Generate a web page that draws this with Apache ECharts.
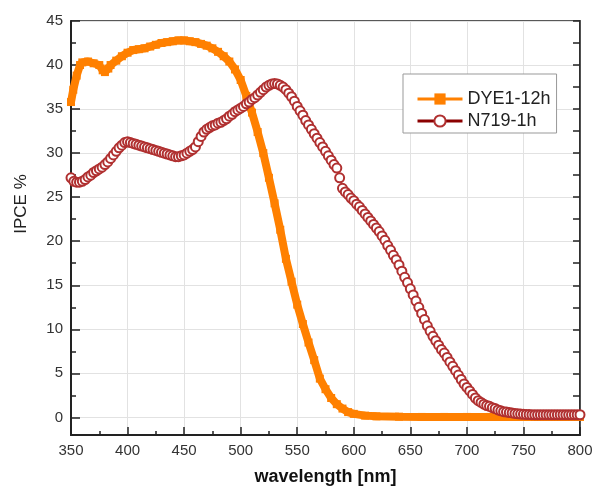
<!DOCTYPE html>
<html>
<head>
<meta charset="utf-8">
<script src="https://cdn.jsdelivr.net/npm/echarts@6/dist/echarts.min.js"></script>
<style>html,body{margin:0;padding:0;background:#fff}#c{width:593px;height:488px}</style>
</head>
<body>
<div id="c"></div>
<script>
// ---- data ----
const seriesNames = ['DYE1-12h', 'N719-1h'];

const dyeWavelength = [350,352,355,358,360,365,370,375,378,380,383,385,390,395,400,405,410,415,420,425,430,435,440,445,450,455,460,465,470,475,480,485,490,495,500,505,510,515,520,525,530,535,540,545,550,555,560,565,570,575,580,585,590,595,600,610,620,640,660,680,700,720,740,760,780,800];
const dyeIPCE = [35.8,37.2,38.8,40.0,40.3,40.4,40.2,40.0,39.4,39.2,39.6,40.0,40.5,41.0,41.4,41.7,41.8,41.9,42.1,42.3,42.5,42.6,42.7,42.8,42.8,42.7,42.6,42.4,42.2,41.9,41.5,41.0,40.4,39.5,38.3,36.5,34.6,32.4,30.0,27.2,24.3,21.3,18.0,15.4,12.8,10.6,8.5,6.5,4.4,3.2,2.2,1.5,1.0,0.6,0.4,0.2,0.12,0.08,0.05,0.05,0.05,0.05,0.05,0.05,0.05,0.05];

const n719Wavelength = [
  350,352.5,355,357.5,360,362.5,365,367.5,370,372.5,375,377.5,380,382.5,385,387.5,390,392.5,395,397.5,
  400,402.5,405,407.5,410,412.5,415,417.5,420,422.5,425,427.5,430,432.5,435,437.5,440,442.5,445,447.5,
  450,452.5,455,457.5,460,462.5,465,467.5,470,472.5,475,477.5,480,482.5,485,487.5,490,492.5,495,497.5,
  500,502.5,505,507.5,510,512.5,515,517.5,520,522.5,525,527.5,530,532.5,535,537.5,540,542.5,545,547.5,
  550,552.5,555,557.5,560,562.5,565,567.5,570,572.5,575,577.5,580,582.5,585,587.5,590,592.5,595,597.5,
  600,602.5,605,607.5,610,612.5,615,617.5,620,622.5,625,627.5,630,632.5,635,637.5,640,642.5,645,647.5,
  650,652.5,655,657.5,660,662.5,665,667.5,670,672.5,675,677.5,680,682.5,685,687.5,690,692.5,695,697.5,
  700,702.5,705,707.5,710,712.5,715,717.5,720,722.5,725,727.5,730,732.5,735,737.5,740,742.5,745,747.5,
  750,752.5,755,757.5,760,762.5,765,767.5,770,772.5,775,777.5,780,782.5,785,787.5,790,792.5,795,797.5,800];
const n719IPCE = [
  27.2,26.8,26.7,26.7,26.8,27.0,27.3,27.5,27.8,28.0,28.2,28.4,28.7,29.0,29.4,29.8,30.2,30.6,30.9,31.2,
  31.3,31.2,31.1,31.0,30.9,30.8,30.7,30.6,30.5,30.4,30.3,30.2,30.1,30.0,29.9,29.8,29.7,29.6,29.6,29.7,
  29.8,30.0,30.2,30.4,30.7,31.3,31.9,32.4,32.7,32.9,33.1,33.2,33.4,33.5,33.7,33.9,34.2,34.4,34.7,34.9,
  35.1,35.3,35.6,35.8,36.1,36.3,36.6,36.9,37.2,37.5,37.7,37.85,37.9,37.85,37.7,37.5,37.2,36.8,36.4,35.9,
  35.3,34.8,34.3,33.7,33.2,32.7,32.2,31.7,31.2,30.7,30.2,29.7,29.2,28.7,28.3,27.2,26.0,25.6,25.3,24.9,
  24.6,24.2,23.9,23.5,23.1,22.7,22.3,21.9,21.5,21.1,20.6,20.1,19.5,19.0,18.4,17.9,17.3,16.6,15.9,15.3,
  14.6,13.9,13.2,12.5,11.8,11.1,10.4,9.8,9.2,8.7,8.2,7.7,7.3,6.8,6.3,5.8,5.3,4.8,4.3,3.8,
  3.4,3.0,2.6,2.2,1.9,1.7,1.5,1.35,1.25,1.1,1.0,0.85,0.75,0.65,0.6,0.55,0.5,0.45,0.4,0.38,
  0.35,0.33,0.32,0.31,0.3,0.3,0.3,0.3,0.3,0.3,0.3,0.3,0.3,0.3,0.3,0.3,0.3,0.3,0.3,0.3,0.3];

const yMajorTicks = [0,5,10,15,20,25,30,35,40,45];
const yMinorTicks = [2.5,7.5,12.5,17.5,22.5,27.5,32.5,37.5,42.5];
const yAllTicks = [0,2.5,5,7.5,10,12.5,15,17.5,20,22.5,25,27.5,30,32.5,35,37.5,40,42.5,45];

// ---- chart ----
const zip = (xs, ys) => xs.map((x, i) => [x, ys[i]]);
const AX = '#222';
const chart = echarts.init(document.getElementById('c'), null, {renderer: 'canvas'});
chart.setOption({
  animation: false,
  backgroundColor: '#fff',
  textStyle: {fontFamily: 'Liberation Sans, Arial, sans-serif'},
  grid: {left: 71, right: 13, top: 21, bottom: 53, outerBoundsMode: 'none', containLabel: false,
         show: true, borderColor: AX, borderWidth: 1.5, backgroundColor: 'transparent'},
  legend: {
    orient: 'vertical', left: 403, top: 74,
    backgroundColor: '#fff', borderColor: '#999', borderWidth: 1,
    padding: [16, 6, 3, 13], itemGap: 4, itemWidth: 45, itemHeight: 14,
    textStyle: {fontSize: 18, color: '#222', fontFamily: 'Liberation Sans, Arial, sans-serif'},
    data: [
      {name: seriesNames[0], lineStyle: {width: 3, color: '#FF8000'}},
      {name: seriesNames[1], lineStyle: {width: 3, color: '#8B0000'}}
    ]
  },
  xAxis: {
    type: 'value', min: 350, max: 800, interval: 50,
    name: 'wavelength [nm]', nameLocation: 'middle', nameGap: 33,
    nameTextStyle: {fontSize: 18, fontWeight: 'bold', color: '#111'},
    axisLine: {show: true, onZero: false, lineStyle: {color: AX, width: 2}},
    axisTick: {show: true, inside: true, length: 8, lineStyle: {color: AX, width: 1.5}},
    minorTick: {show: true, splitNumber: 2, length: 4, lineStyle: {color: AX, width: 1.5}},
    axisLabel: {fontSize: 15, color: '#333', margin: 8},
    splitLine: {show: true, lineStyle: {color: '#e2e2e2', width: 1}}
  },
  yAxis: [
    {
      type: 'value', min: -2, max: 45, position: 'left',
      name: 'IPCE %', nameLocation: 'middle', nameGap: 41,
      nameTextStyle: {fontSize: 17, color: '#222', padding: [0, 0, 0, 48]},
      axisLine: {show: true, onZero: false, lineStyle: {color: AX, width: 2}},
      axisTick: {show: true, inside: true, length: 9, customValues: yMajorTicks, lineStyle: {color: AX, width: 1.5}},
      axisLabel: {fontSize: 15, color: '#333', margin: 8, customValues: yMajorTicks},
      splitLine: {show: true, lineStyle: {color: '#e2e2e2', width: 1}}
    },
    {
      type: 'value', min: -2, max: 45, position: 'left',
      axisLine: {show: false},
      axisTick: {show: true, inside: true, length: 5, customValues: yMinorTicks, lineStyle: {color: AX, width: 1.5}},
      axisLabel: {show: false}, splitLine: {show: false}
    },
    {
      type: 'value', min: -2, max: 45, position: 'right',
      axisLine: {show: true, onZero: false, lineStyle: {color: AX, width: 1.5}},
      axisTick: {show: true, inside: true, length: 7, customValues: yAllTicks, lineStyle: {color: AX, width: 1.5}},
      axisLabel: {show: false}, splitLine: {show: false}
    }
  ],
  series: [
    {
      name: seriesNames[0], type: 'line', yAxisIndex: 0,
      data: zip(dyeWavelength, dyeIPCE),
      symbol: 'rect', symbolSize: 8, showSymbol: true,
      lineStyle: {color: '#FF8000', width: 8},
      itemStyle: {color: '#FF8000'},
      z: 2
    },
    {
      name: seriesNames[1], type: 'line', yAxisIndex: 0,
      data: zip(n719Wavelength, n719IPCE),
      symbol: 'emptyCircle', symbolSize: 9, showSymbol: true,
      lineStyle: {color: '#A52A2A', width: 1},
      itemStyle: {color: '#B03030', borderWidth: 1.1},
      z: 3
    }
  ]
});
</script>
</body>
</html>
